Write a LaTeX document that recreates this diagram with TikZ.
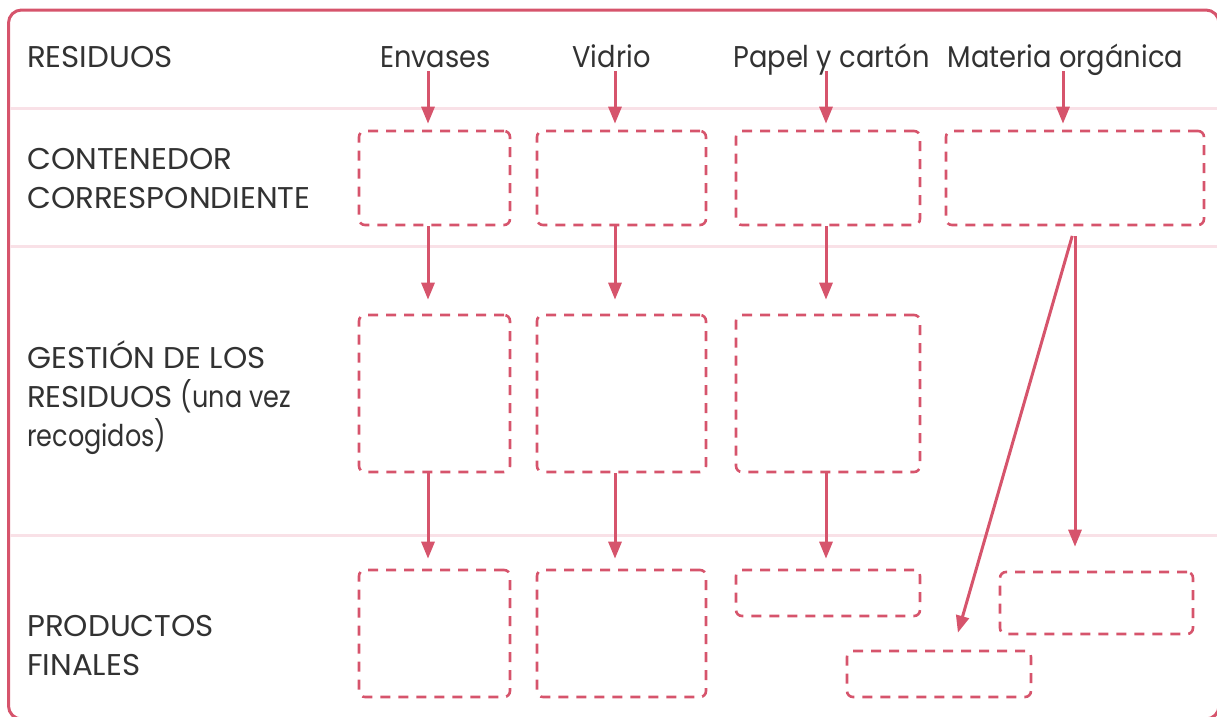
\documentclass[tikz,border=0pt]{standalone}
\usepackage{fontspec}
\setmainfont{Poppins}[FakeStretch=1.03]
\newfontfamily\cabezafont{Poppins}[FakeStretch=0.91]
\newfontfamily\minus{Poppins}[FakeStretch=0.85]
\usepackage{tikz}
\usepackage{xcolor}
\usetikzlibrary{arrows.meta}

\definecolor{rojo}{RGB}{214,84,108}
\definecolor{rosa}{RGB}{249,225,231}
\definecolor{texto}{RGB}{50,50,50}

\tikzset{
  caja/.style={draw=rojo, line width=2.6pt, dash pattern=on 10pt off 8pt,
    rounded corners=6pt, inner sep=0pt},
  flecha/.style={draw=rojo, line width=3pt, -{Triangle[length=17pt,width=13pt]}},
  fila/.style={anchor=base west, align=left, text=texto, inner sep=0pt,
    font=\fontsize{30}{39}\selectfont},
  cabeza/.style={anchor=base, text=texto, inner sep=0pt,
    font=\fontsize{30}{39}\selectfont\cabezafont}
}

\begin{document}
\begin{tikzpicture}[x=1pt,y=-1pt]

\useasboundingbox (0,0) rectangle (1217,716);
\clip (0,0) rectangle (1217,716);

% marco y separadores
\draw[rojo,line width=3pt,rounded corners=13pt] (8.5,10) rectangle (1219,719);
\foreach \y in {108,246.5,535}
    \draw[rosa,line width=3pt] (10,\y) -- (1217,\y);

% filas (base = ultima linea)
\node[fila] (fRes) at (27,67) {RESIDUOS};
\node[fila] (fCon) at (27,208) {CONTENEDOR\\CORRESPONDIENTE};
\node[fila] (fGes) at (27,446) {GESTIÓN DE LOS\\RESIDUOS {\minus(una vez}\\{\minus recogidos)}};
\node[fila] (fPro) at (27,675) {PRODUCTOS\\FINALES};

% columnas
\node[cabeza] (hEnv) at (435.5,67) {Envases};
\node[cabeza] (hVid) at (611.5,67) {Vidrio};
\node[cabeza] (hPap) at (831.5,67) {Papel y cartón};
\node[cabeza] (hMat) at (1065.5,67) {Materia orgánica};

\coordinate (cEnv) at (428,0);
\coordinate (cVid) at (615,0);
\coordinate (cPap) at (826,0);
\coordinate (cMat) at (1063,0);

% contenedores
\node[caja,minimum width=151pt,minimum height=94pt] (e2) at (434.5,178) {};
\node[caja,minimum width=169pt,minimum height=94pt] (v2) at (621.5,178) {};
\node[caja,minimum width=184pt,minimum height=94pt] (p2) at (828,178) {};
\node[caja,minimum width=258pt,minimum height=94pt] (m2) at (1075,178) {};

% gestion
\node[caja,minimum width=151pt,minimum height=157pt] (e3) at (434.5,393.5) {};
\node[caja,minimum width=169pt,minimum height=157pt] (v3) at (621.5,393.5) {};
\node[caja,minimum width=184pt,minimum height=157pt] (p3) at (828,393.5) {};

% productos
\node[caja,minimum width=151pt,minimum height=127pt] (e4) at (434.5,633.5) {};
\node[caja,minimum width=169pt,minimum height=127pt] (v4) at (621.5,633.5) {};
\node[caja,minimum width=184pt,minimum height=46pt] (p4) at (828,593) {};
\node[caja,minimum width=193pt,minimum height=62pt] (o5) at (1096.5,603) {};
\node[caja,minimum width=184pt,minimum height=46pt] (o4) at (939,674) {};

% flechas
\draw[flecha,shorten <=4pt,shorten >=6pt] (hEnv.base -| cEnv) -- (e2.north -| cEnv);
\draw[flecha,shorten <=4pt,shorten >=6pt] (hVid.base -| cVid) -- (v2.north -| cVid);
\draw[flecha,shorten <=4pt,shorten >=6pt] (hPap.base -| cPap) -- (p2.north -| cPap);
\draw[flecha,shorten <=4pt,shorten >=6pt] (hMat.base -| cMat) -- (m2.north -| cMat);

\draw[flecha,shorten >=14pt] (e2.south -| cEnv) -- (e3.north -| cEnv);
\draw[flecha,shorten >=14pt] (v2.south -| cVid) -- (v3.north -| cVid);
\draw[flecha,shorten >=14pt] (p2.south -| cPap) -- (p3.north -| cPap);

\draw[flecha,shorten >=10pt] (e3.south -| cEnv) -- (e4.north -| cEnv);
\draw[flecha,shorten >=10pt] (v3.south -| cVid) -- (v4.north -| cVid);
\draw[flecha,shorten >=10pt] (p3.south -| cPap) -- (p4.north -| cPap);

\draw[flecha,shorten <=10pt,shorten >=24pt] (m2.south) -- (m2.south |- o5.north);
\draw[flecha,shorten <=10pt,shorten >=17.7pt] (m2.south) -- ([xshift=14pt]o4.north);

\end{tikzpicture}
\end{document}
